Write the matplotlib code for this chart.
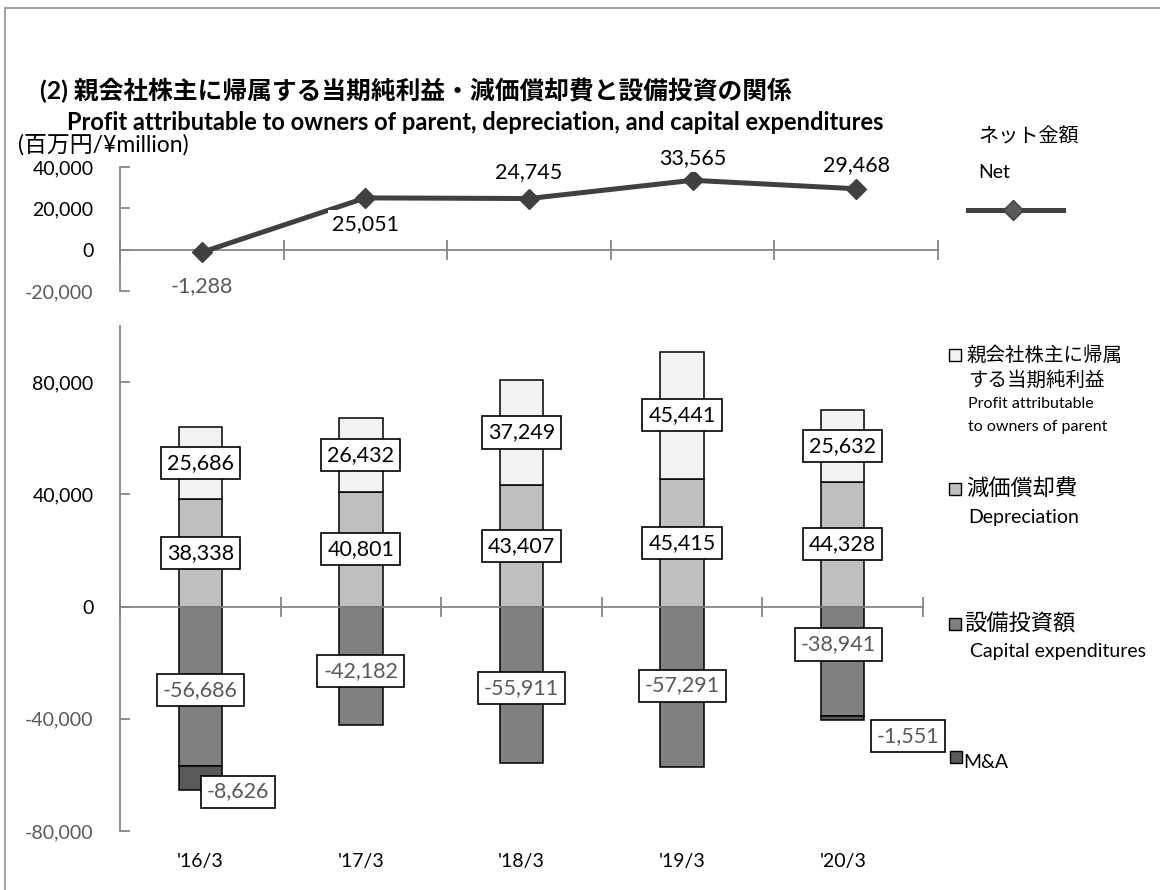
import matplotlib
matplotlib.use("Agg")
import matplotlib.pyplot as plt
from matplotlib.lines import Line2D
from matplotlib.patches import Rectangle
from matplotlib.transforms import blended_transform_factory


# data (百万円)
years = ["'16/3", "'17/3", "'18/3", "'19/3", "'20/3"]
net = [-1288, 25051, 24745, 33565, 29468]
profit = [25686, 26432, 37249, 45441, 25632]
depreciation = [38338, 40801, 43407, 45415, 44328]
capex = [-56686, -42182, -55911, -57291, -38941]
ma = [-8626, 0, 0, 0, -1551]

top_ticks = [-20000, 0, 20000, 40000]
bottom_ticks = [-80000, -40000, 0, 40000, 80000]

# label nudges in points (manual positions in the original)
net_label_dy = [-24, -19, 19, 16, 17]
capex_label_off = [(0, -3), (0, -4), (0, -2), (0, 1), (-3, 12)]
ma_label_off = [(27, -10), None, None, None, (47, -13)]

LATIN = ["Lato", "Noto Sans CJK JP"]
JP = ["Noto Sans CJK JP", "Lato"]
DARK = "#404040"
AXIS = "#868686"
NEG = "#595959"
C_PROFIT = "#F2F2F2"
C_DEP = "#BFBFBF"
C_CAPEX = "#808080"
C_MA = "#595959"
LABEL_FS = 15.5

W, H = 1160, 890


def fx(px):
    return px / W


def fy(py):
    return 1 - py / H


def ftext(px, py, s, **kw):
    kw.setdefault("va", "center")
    kw.setdefault("ha", "left")
    fig.text(fx(px), fy(py), s, **kw)


def num_color(v):
    return NEG if v < 0 else "black"


def style_axes(ax, yticks):
    for s in ["top", "right"]:
        ax.spines[s].set_visible(False)
    for s in ["left", "bottom"]:
        ax.spines[s].set_color(AXIS)
        ax.spines[s].set_linewidth(1.3)
    ax.spines["bottom"].set_position(("data", 0))
    ax.set_xlim(0, 5)
    ax.set_xticks(range(6))
    ax.set_xticklabels([])
    ax.tick_params(axis="x", direction="inout", length=14, width=1.3, color=AXIS)
    ax.set_yticks(yticks)
    ax.set_yticklabels([f"{v:,}" for v in yticks])
    ax.tick_params(axis="y", direction="in", length=7, width=1.3, color=AXIS,
                   pad=19, labelsize=14)
    for lbl, v in zip(ax.get_yticklabels(), yticks):
        lbl.set_color(num_color(v))
        lbl.set_family(LATIN)


fig = plt.figure(figsize=(W / 100, H / 100), dpi=100)
x = [i + 0.5 for i in range(len(years))]

# ---------------- top: net line ----------------
ax1 = fig.add_axes([fx(120), fy(291), 818 / W, 124 / H])
ax1.plot(x, net, color=DARK, lw=3.6, marker="D", ms=10, zorder=3, clip_on=False)
ax1.set_ylim(-20000, 40000)
style_axes(ax1, top_ticks)
for xi, v, dy in zip(x, net, net_label_dy):
    ax1.annotate(f"{v:,}", (xi, v), xytext=(0, dy), textcoords="offset points",
                 ha="center", va="center", fontsize=LABEL_FS, family=LATIN,
                 color=num_color(v), zorder=4,
                 bbox=dict(boxstyle="square,pad=0.2", fc="white", ec="none"))

# ---------------- bottom: stacked bars ----------------
ax2 = fig.add_axes([fx(120), fy(831), 803 / W, 505 / H])
bw = 0.27
ax2.bar(x, depreciation, bw, color=C_DEP, edgecolor="black", lw=1.1, zorder=2)
ax2.bar(x, profit, bw, bottom=depreciation, color=C_PROFIT, edgecolor="black",
        lw=1.1, zorder=2)
ax2.bar(x, capex, bw, color=C_CAPEX, edgecolor="black", lw=1.1, zorder=2)
ma_x = [xi for xi, v in zip(x, ma) if v != 0]
ma_v = [v for v in ma if v != 0]
ma_b = [c for c, v in zip(capex, ma) if v != 0]
ax2.bar(ma_x, ma_v, bw, bottom=ma_b, color=C_MA, edgecolor="black", lw=1.1, zorder=2)
ax2.set_ylim(-80000, 100000)
style_axes(ax2, bottom_ticks)

box = dict(boxstyle="square,pad=0.28", fc="white", ec="black", lw=1.2)


def bar_label(xi, yc, v, off=(0, 0)):
    ax2.annotate(f"{v:,}", (xi, yc), xytext=off, textcoords="offset points",
                 ha="center", va="center", fontsize=LABEL_FS, family=LATIN,
                 color=num_color(v), bbox=box, zorder=5)


for i, xi in enumerate(x):
    bar_label(xi, depreciation[i] / 2, depreciation[i])
    bar_label(xi, depreciation[i] + profit[i] / 2, profit[i])
    bar_label(xi, capex[i] / 2, capex[i], capex_label_off[i])
    if ma[i] != 0:
        bar_label(xi, capex[i] + ma[i] / 2, ma[i], ma_label_off[i])

trans = blended_transform_factory(ax2.transData, ax2.transAxes)
for xi, yr in zip(x, years):
    ax2.text(xi, -0.061, yr, transform=trans, ha="center", va="center",
             fontsize=14, family=LATIN)

# ---------------- titles ----------------
ftext(40, 90, "(2) 親会社株主に帰属する当期純利益・減価償却費と設備投資の関係",
      fontsize=17.8, fontweight="bold", family=LATIN)
ftext(67, 122, "Profit attributable to owners of parent, depreciation, and capital expenditures",
      fontsize=17, fontweight="bold", family=LATIN)
ftext(18, 145, "(百万円/¥million)", fontsize=16.5, family=LATIN)

# ---------------- right-hand legend ----------------
ftext(978, 137, "ネット金額", fontsize=14.5, family=JP)
ftext(978, 172, "Net", fontsize=14, family=LATIN)
fig.add_artist(Line2D([fx(968), fx(1063)], [fy(210), fy(210)], transform=fig.transFigure,
                      color=DARK, lw=3.6))
fig.add_artist(Line2D([fx(1013)], [fy(210)], transform=fig.transFigure, color=DARK,
                      marker="D", ms=10, markerfacecolor="#595959"))


def key(px, py, color):
    fig.add_artist(Rectangle((fx(px), fy(py + 6)), 12 / W, 12 / H,
                             transform=fig.transFigure, fc=color, ec="black", lw=1))


key(949, 355, C_PROFIT)
ftext(966, 355, "親会社株主に帰属", fontsize=14, family=JP)
ftext(968, 380, "する当期純利益", fontsize=14, family=JP)
ftext(968, 404, "Profit attributable", fontsize=11.5, family=LATIN)
ftext(968, 427, "to owners of parent", fontsize=11.5, family=LATIN)

key(949, 489, C_DEP)
ftext(966, 489, "減価償却費", fontsize=16, family=JP)
ftext(968, 518, "Depreciation", fontsize=14, family=LATIN)

key(949, 624, C_CAPEX)
ftext(964, 624, "設備投資額", fontsize=16, family=JP)
ftext(970, 652, "Capital expenditures", fontsize=14, family=LATIN)

key(950, 757, C_MA)
ftext(963, 762, "M&A", fontsize=14, family=LATIN)

# outer frame (top and left edges visible)
fig.add_artist(Line2D([fx(5), 1], [fy(8), fy(8)], transform=fig.transFigure,
                      color="#A6A6A6", lw=1.5))
fig.add_artist(Line2D([fx(5), fx(5)], [0, fy(8)], transform=fig.transFigure,
                      color="#A6A6A6", lw=1.5))

fig.savefig("out.png", dpi=100)
